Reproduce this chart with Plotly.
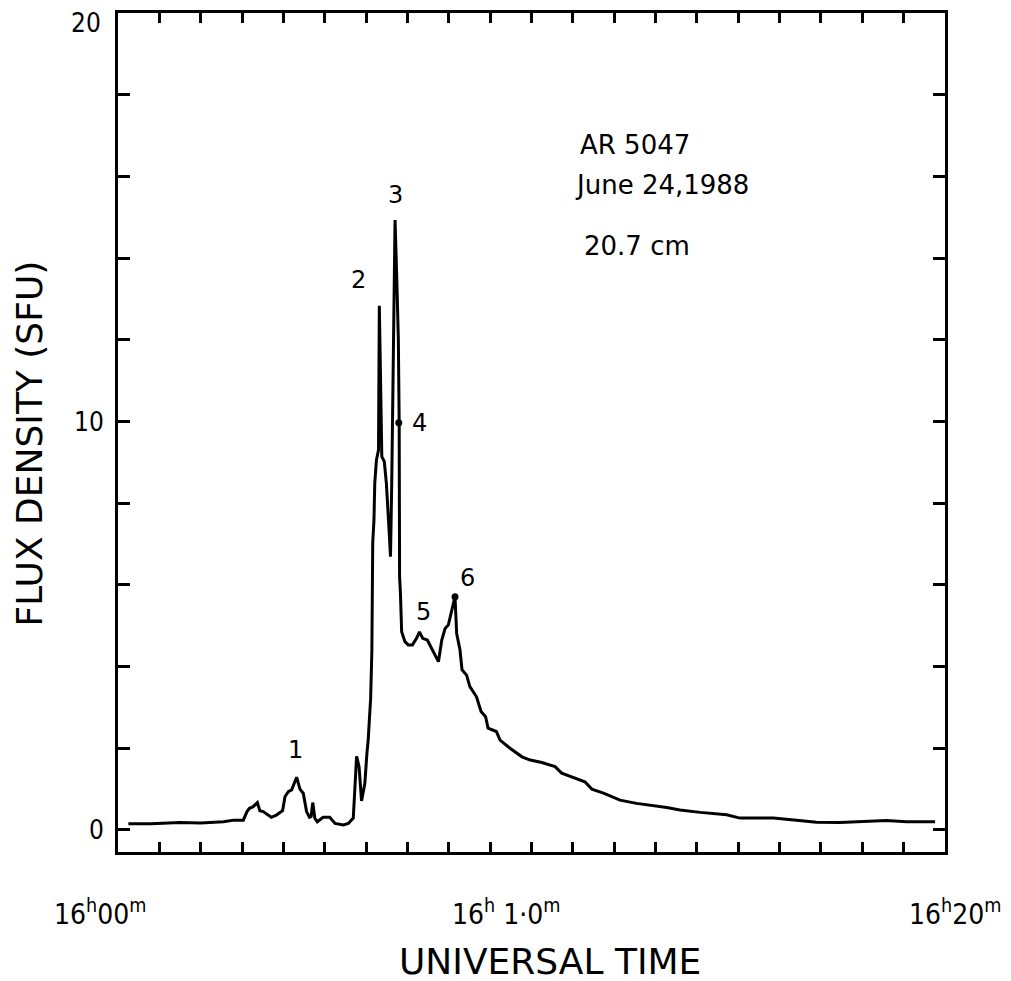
import plotly.graph_objects as go

# time in minutes after 16h00m UT, flux density in SFU
minutes = [0.25, 0.8, 1.5, 2.0, 2.55, 2.8, 3.03, 3.12, 3.18, 3.27, 3.37, 3.43, 3.51, 3.6, 3.71,
           3.84, 3.98, 4.04, 4.12, 4.2, 4.32, 4.40, 4.48, 4.56, 4.63, 4.67, 4.71, 4.76, 4.82,
           4.96, 5.12, 5.25, 5.45, 5.57, 5.69, 5.77, 5.83, 5.89, 5.97, 6.02, 6.05, 6.11, 6.14,
           6.16, 6.19, 6.21, 6.25, 6.30, 6.32, 6.35, 6.38, 6.44, 6.49, 6.56, 6.59, 6.62, 6.66,
           6.70, 6.75, 6.78, 6.80, 6.81, 6.83, 6.86, 6.94, 7.02, 7.12, 7.22, 7.29, 7.37, 7.48,
           7.61, 7.75, 7.83, 7.91, 7.99, 8.05, 8.15, 8.19, 8.27, 8.32, 8.43, 8.51, 8.67, 8.78,
           8.89, 8.95, 9.07, 9.15, 9.24, 9.48, 9.77, 9.97, 10.25, 10.57, 10.73, 10.97, 11.29,
           11.46, 11.74, 12.14, 12.54, 13.27, 13.59, 14.08, 14.72, 15.04, 15.85, 16.41, 16.89,
           17.46, 18.1, 18.58, 19.07, 19.76]
flux = [0.15, 0.15, 0.18, 0.17, 0.2, 0.24, 0.24, 0.45, 0.53, 0.57, 0.67, 0.47, 0.45, 0.38, 0.31,
        0.37, 0.47, 0.82, 0.94, 0.98, 1.29, 1.0, 0.9, 0.45, 0.31, 0.33, 0.67, 0.29, 0.2,
        0.31, 0.31, 0.16, 0.12, 0.16, 0.29, 1.8, 1.55, 0.71, 1.14, 1.88, 2.2, 3.22, 4.41,
        7.02, 7.59, 8.49, 9.06, 9.3, 12.83, 11.0, 9.14, 9.02, 8.49, 7.26, 6.69, 8.5, 12.0,
        14.93, 13.2, 12.0, 9.96, 6.2, 5.8, 4.85, 4.61, 4.53, 4.53, 4.69, 4.85, 4.69, 4.65,
        4.41, 4.12, 4.65, 4.93, 5.02, 5.26, 5.71, 4.81, 4.41, 3.92, 3.79, 3.51, 3.26, 2.9,
        2.77, 2.49, 2.43, 2.41, 2.2, 2.0, 1.79, 1.71, 1.65, 1.55, 1.39, 1.3, 1.18,
        1.0, 0.9, 0.73, 0.65, 0.55, 0.49, 0.43, 0.37, 0.29, 0.29, 0.24, 0.19,
        0.18, 0.2, 0.23, 0.2, 0.2]

# labelled points (number, time, flux of label)
peak_labels = ["1", "2", "3", "4", "5", "6"]
peak_label_t = [4.30, 5.81, 6.70, 7.30, 7.38, 8.46]
peak_label_v = [1.96, 13.46, 15.54, 9.97, 5.34, 6.16]
dot_t = [6.79, 8.15]
dot_v = [9.97, 5.71]

x_tick_vals = [0, 10, 20]
x_tick_text = ["16<sup>h</sup>00<sup>m</sup>", "16<sup>h</sup> 1·0<sup>m</sup>", "16<sup>h</sup>20<sup>m</sup>"]
y_tick_vals = [0, 10]
y_tick_text = ["0", "10"]
y_minor_step = 2
x_minor_step = 1
y_top_label = "20"
y_top_value = 20

info_lines = ["AR 5047", "June 24,1988", "20.7 cm"]
info_t = [11.12, 11.0, 11.22]
info_v = [16.77, 15.79, 14.3]

FONT = "DejaVu Sans, Liberation Sans, sans-serif"
COND = "DejaVu Sans Condensed, Liberation Sans Narrow, DejaVu Sans, sans-serif"

fig = go.Figure()
fig.add_trace(go.Scatter(x=minutes, y=flux, mode="lines",
                         line=dict(color="black", width=3), hoverinfo="skip"))
fig.add_trace(go.Scatter(x=dot_t, y=dot_v, mode="markers",
                         marker=dict(color="black", size=7), hoverinfo="skip"))

annotations = []
for lab, t, v in zip(peak_labels, peak_label_t, peak_label_v):
    annotations.append(dict(x=t, y=v, xref="x", yref="y", text=lab, showarrow=False,
                            font=dict(family=FONT, size=24, color="black")))
for txt, t, v in zip(info_lines, info_t, info_v):
    annotations.append(dict(x=t, y=v, xref="x", yref="y", text=txt, showarrow=False,
                            xanchor="left", font=dict(family=FONT, size=26, color="black")))
x_shifts = [-18, -26, 10]
for tv, tt, xs in zip(x_tick_vals, x_tick_text, x_shifts):
    annotations.append(dict(x=tv, y=0, xref="x", yref="paper", text=tt, showarrow=False,
                            xshift=xs, yanchor="top", yshift=-40,
                            font=dict(family=COND, size=28, color="black")))
# top y tick label (sits just below the top edge in the reference)
annotations.append(dict(x=0, y=y_top_value, xref="paper", yref="y", text=y_top_label,
                        showarrow=False, xanchor="right", yanchor="top", xshift=-16, yshift=6,
                        borderpad=0, font=dict(family=COND, size=26, color="black")))
annotations.append(dict(x=0.522, y=0, xref="paper", yref="paper", text="UNIVERSAL TIME",
                        showarrow=False, yanchor="top", yshift=-88, borderpad=0,
                        font=dict(family=FONT, size=36, color="black")))
annotations.append(dict(x=0, y=0.487, xref="paper", yref="paper", text="FLUX DENSITY (SFU)",
                        showarrow=False, textangle=-90, xanchor="center", xshift=-89,
                        borderpad=0, font=dict(family=FONT, size=36, color="black")))

# page body adds an 8 px margin; figure sized so the plot lands where the reference has it
fig.update_layout(
    width=1003, height=973,
    margin=dict(l=110, r=66, t=5, b=129, autoexpand=False),
    paper_bgcolor="white", plot_bgcolor="white",
    showlegend=False,
    annotations=annotations,
    xaxis=dict(range=[0, 20], tickvals=x_tick_vals, showticklabels=False,
               ticks="inside", ticklen=10, tickwidth=2.5, tickcolor="black",
               minor=dict(dtick=x_minor_step, tick0=0, ticks="inside", ticklen=10,
                          tickwidth=2.5, tickcolor="black", showgrid=False),
               showline=True, linewidth=3, linecolor="black", mirror="ticks",
               showgrid=False, zeroline=False, automargin=False),
    yaxis=dict(range=[-0.54, 20], tickvals=y_tick_vals, ticktext=y_tick_text,
               ticks="inside", ticklen=12, tickwidth=2.5, tickcolor="black",
               minor=dict(dtick=y_minor_step, tick0=0, ticks="inside", ticklen=12,
                          tickwidth=2.5, tickcolor="black", showgrid=False),
               showline=True, linewidth=3, linecolor="black", mirror="ticks",
               showgrid=False, zeroline=False, ticklabelstandoff=6, automargin=False,
               tickfont=dict(family=COND, size=26, color="black")),
)

fig.write_html("out.html")
